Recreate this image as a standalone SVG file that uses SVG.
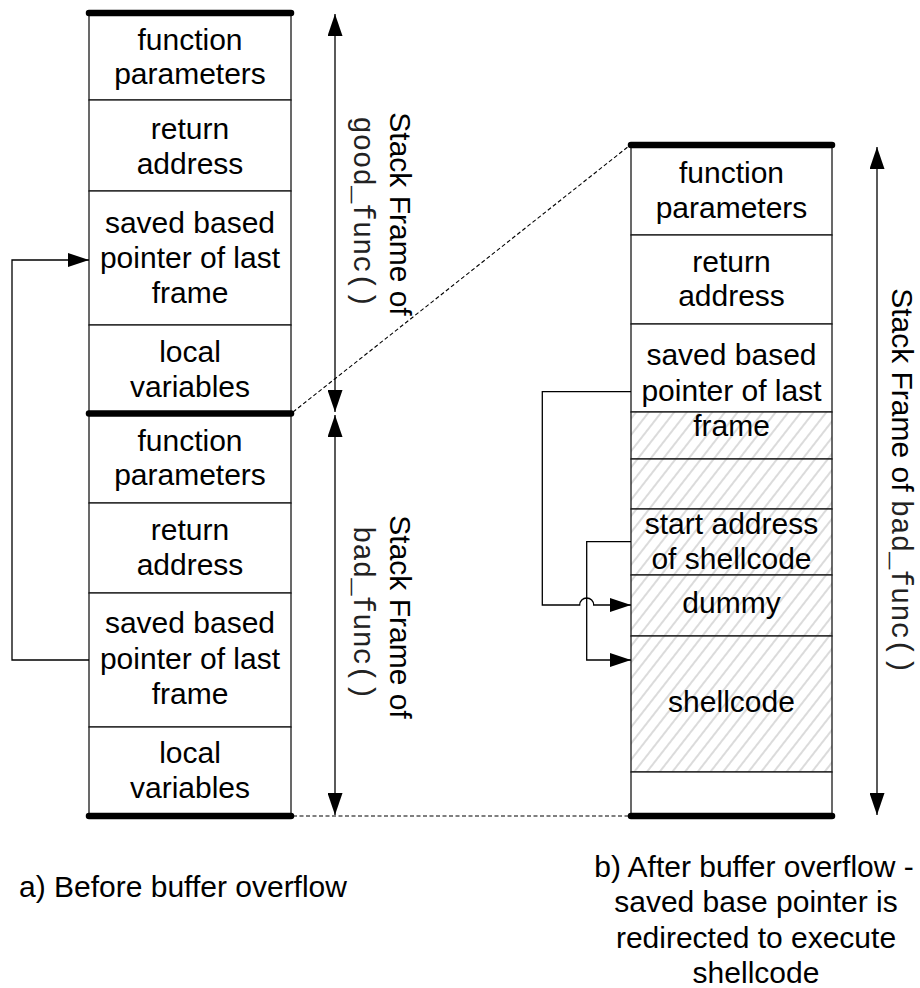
<svg xmlns="http://www.w3.org/2000/svg" width="920" height="988" viewBox="0 0 920 988">
<style>
  .cell { fill: #ffffff; stroke: #1a1a1a; stroke-width: 1.3; }
  .hcell { fill: url(#hatch); stroke: #1a1a1a; stroke-width: 1.3; }
  .thick { stroke: #000; stroke-width: 6.5; stroke-linecap: round; }
  .t { font-family: "Liberation Sans", Arial, sans-serif; font-size: 30px; fill: #000; text-anchor: middle; }
  .lbl { font-family: "Liberation Sans", Arial, sans-serif; font-size: 30px; fill: #000; }
  .mono { font-family: "Liberation Mono", "Courier New", monospace; font-size: 29px; fill: #222; }
  .conn { fill: none; stroke: #000; stroke-width: 1.3; }
  .dash { fill: none; stroke: #000; stroke-width: 1.1; stroke-dasharray: 4 2.5; }
</style>
<defs>
  <pattern id="hatch" width="10" height="10" patternUnits="userSpaceOnUse" patternTransform="rotate(38)">
    <rect width="10" height="10" fill="#ffffff"/>
    <line x1="5" y1="0" x2="5" y2="10" stroke="#b8b8b8" stroke-width="1"/>
  </pattern>
  <marker id="ah" viewBox="0 0 22 15" refX="22" refY="7.5" markerWidth="22" markerHeight="15" markerUnits="userSpaceOnUse" orient="auto-start-reverse">
    <path d="M0,0 L22,7.5 L0,15 Z" fill="#000"/>
  </marker>
  <marker id="ah2" viewBox="0 0 21 14" refX="21" refY="7" markerWidth="21" markerHeight="14" markerUnits="userSpaceOnUse" orient="auto">
    <path d="M0,0 L21,7 L0,14 Z" fill="#000"/>
  </marker>
</defs>

<!-- Left stack: good_func frame -->
<g id="L1a"><rect class="cell" x="89" y="13" width="202" height="87"/>
  <text class="t" x="190" y="49.5">function</text><text class="t" x="190" y="84">parameters</text></g>
<g id="L1b"><rect class="cell" x="89" y="100" width="202" height="91"/>
  <text class="t" x="190" y="138.5">return</text><text class="t" x="190" y="173.5">address</text></g>
<g id="L1c"><rect class="cell" x="89" y="191" width="202" height="134"/>
  <text class="t" x="190" y="232.5">saved based</text><text class="t" x="190" y="268">pointer of last</text><text class="t" x="190" y="303">frame</text></g>
<g id="L1d"><rect class="cell" x="89" y="325" width="202" height="88.5"/>
  <text class="t" x="190" y="362">local</text><text class="t" x="190" y="397">variables</text></g>

<!-- Left stack: bad_func frame -->
<g id="L2a"><rect class="cell" x="89" y="413.5" width="202" height="89.5"/>
  <text class="t" x="190" y="450.5">function</text><text class="t" x="190" y="485">parameters</text></g>
<g id="L2b"><rect class="cell" x="89" y="503" width="202" height="90"/>
  <text class="t" x="190" y="539.5">return</text><text class="t" x="190" y="574.5">address</text></g>
<g id="L2c"><rect class="cell" x="89" y="593" width="202" height="134"/>
  <text class="t" x="190" y="633">saved based</text><text class="t" x="190" y="668.5">pointer of last</text><text class="t" x="190" y="703.5">frame</text></g>
<g id="L2d"><rect class="cell" x="89" y="727" width="202" height="89"/>
  <text class="t" x="190" y="763">local</text><text class="t" x="190" y="798">variables</text></g>

<g id="left-bounds">
  <line class="thick" x1="89" y1="13" x2="291" y2="13"/>
  <line class="thick" x1="89" y1="413.5" x2="291" y2="413.5"/>
  <line class="thick" x1="89" y1="816" x2="291" y2="816"/>
</g>

<!-- Right stack -->
<g id="R1"><rect class="cell" x="631" y="145" width="201" height="90"/>
  <text class="t" x="731.5" y="183">function</text><text class="t" x="731.5" y="218">parameters</text></g>
<g id="R2"><rect class="cell" x="631" y="235" width="201" height="89"/>
  <text class="t" x="731.5" y="271.5">return</text><text class="t" x="731.5" y="306">address</text></g>
<g id="R3"><rect class="cell" x="631" y="324" width="201" height="88"/></g>
<g id="R4"><rect class="hcell" x="631" y="412" width="201" height="47"/></g>
<g id="R3text"><text class="t" x="731.5" y="365">saved based</text><text class="t" x="731.5" y="400.5">pointer of last</text><text class="t" x="731.5" y="436">frame</text></g>
<g id="R5"><rect class="hcell" x="631" y="459" width="201" height="50"/></g>
<g id="R6"><rect class="hcell" x="631" y="509" width="201" height="66"/>
  <text class="t" x="731.5" y="533.5">start address</text><text class="t" x="731.5" y="569">of shellcode</text></g>
<g id="R7"><rect class="hcell" x="631" y="575" width="201" height="61"/>
  <text class="t" x="731.5" y="613">dummy</text></g>
<g id="R8"><rect class="hcell" x="631" y="636" width="201" height="136"/>
  <text class="t" x="731.5" y="712">shellcode</text></g>
<g id="R9"><rect class="cell" x="631" y="772" width="201" height="44"/></g>
<g id="right-bounds">
  <line class="thick" x1="631" y1="145" x2="832" y2="145"/>
  <line class="thick" x1="631" y1="816" x2="832" y2="816"/>
</g>

<!-- Frame labels -->
<g id="label-good">
  <text class="lbl" text-anchor="middle" transform="translate(390,214) rotate(90)">Stack Frame of</text>
  <text class="lbl mono" text-anchor="middle" transform="translate(354,212) rotate(90)">good_func()</text>
</g>
<g id="label-bad-left">
  <text class="lbl" text-anchor="middle" transform="translate(390,617) rotate(90)">Stack Frame of</text>
  <text class="lbl mono" text-anchor="middle" transform="translate(354,613) rotate(90)">bad_func()</text>
</g>
<g id="label-bad-right">
  <text class="lbl" text-anchor="middle" transform="translate(892,481) rotate(90)">Stack Frame of <tspan class="mono">bad_func()</tspan></text>
</g>

<!-- Connectors -->
<g id="connectors">
  <line class="conn" x1="335" y1="14" x2="335" y2="412" marker-start="url(#ah)" marker-end="url(#ah)"/>
  <line class="conn" x1="335" y1="415" x2="335" y2="815" marker-start="url(#ah)" marker-end="url(#ah)"/>
  <line class="conn" x1="877" y1="147" x2="877" y2="815" marker-start="url(#ah)" marker-end="url(#ah)"/>
  <path class="conn" d="M89,660 H12 V260 H89" marker-end="url(#ah2)"/>
  <path class="conn" d="M631,391.7 H542.3 V605 H579.7 A7,7 0 0 1 593.7,605 H631" marker-end="url(#ah2)"/>
  <path class="conn" d="M631,541.7 H586.7 V660 H631" marker-end="url(#ah2)"/>
  <line class="dash" x1="293" y1="412" x2="629" y2="146"/>
  <line class="dash" x1="293" y1="816" x2="629" y2="816"/>
</g>

<!-- Captions -->
<g id="caption-a">
  <text class="t" x="183" y="897">a) Before buffer overflow</text>
</g>
<g id="caption-b">
  <text class="t" x="754" y="877">b) After buffer overflow -</text>
  <text class="t" x="756" y="912">saved base pointer is</text>
  <text class="t" x="756" y="947.5">redirected to execute</text>
  <text class="t" x="756" y="983">shellcode</text>
</g>
</svg>
